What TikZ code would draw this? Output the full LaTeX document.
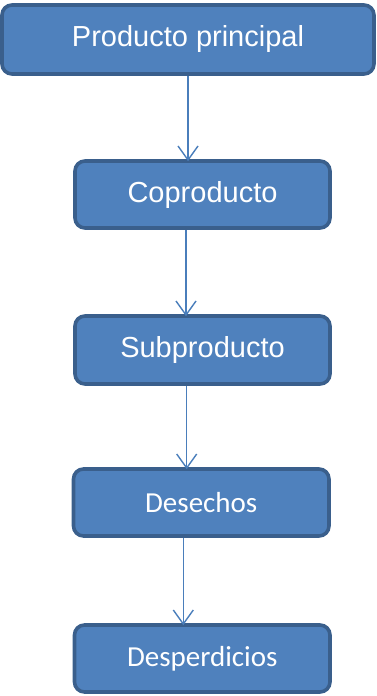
\documentclass[tikz,border=0pt]{standalone}
\usepackage{fontspec}
\setmainfont{Liberation Sans}
\newfontfamily\calfont{Carlito}
\usetikzlibrary{arrows.meta}
\definecolor{boxfill}{HTML}{4F81BD}
\definecolor{boxline}{HTML}{3A5F8C}
\definecolor{arrcol}{HTML}{4A7EBB}
\begin{document}
\begin{tikzpicture}[x=1pt,y=-1pt,
  flowbox/.style={draw=boxline, fill=boxfill, line width=3.6pt, rounded corners=10pt,
    text=white, inner sep=0pt, font=\fontsize{29}{33}\selectfont},
  calbox/.style={flowbox, font=\calfont\fontsize{29}{33}\selectfont},
  arr/.style={draw=arrcol, line width=1.4pt, -{Straight Barb[length=14pt,width=20pt,line width=1.4pt]}}]
\useasboundingbox (0,0) rectangle (377,696);
\node[flowbox, minimum width=372pt, minimum height=69pt] (a) at (188,39.5) {Producto principal};
\node[flowbox, minimum width=255pt, minimum height=67pt] (b) at (202.5,194.5) {Coproducto};
\node[flowbox, minimum width=255pt, minimum height=68pt] (c) at (202.5,350) {Subproducto};
\node[calbox, minimum width=255.5pt, minimum height=67pt] (d) at (201.25,502.5) {Desechos};
\node[calbox, minimum width=255.5pt, minimum height=67pt] (e) at (202.25,658.5) {Desperdicios};
\coordinate (x1) at (188,0);
\coordinate (x2) at (186,0);
\coordinate (x3) at (186.7,0);
\coordinate (x4) at (183.3,0);
\draw[arr] (a.south -| x1) -- ([yshift=-2pt]b.north -| x1);
\draw[arr] (b.south -| x2) -- ([yshift=-2pt]c.north -| x2);
\draw[arr] (c.south -| x3) -- ([yshift=-2pt]d.north -| x3);
\draw[arr] (d.south -| x4) -- ([yshift=-2pt]e.north -| x4);
\end{tikzpicture}
\end{document}
